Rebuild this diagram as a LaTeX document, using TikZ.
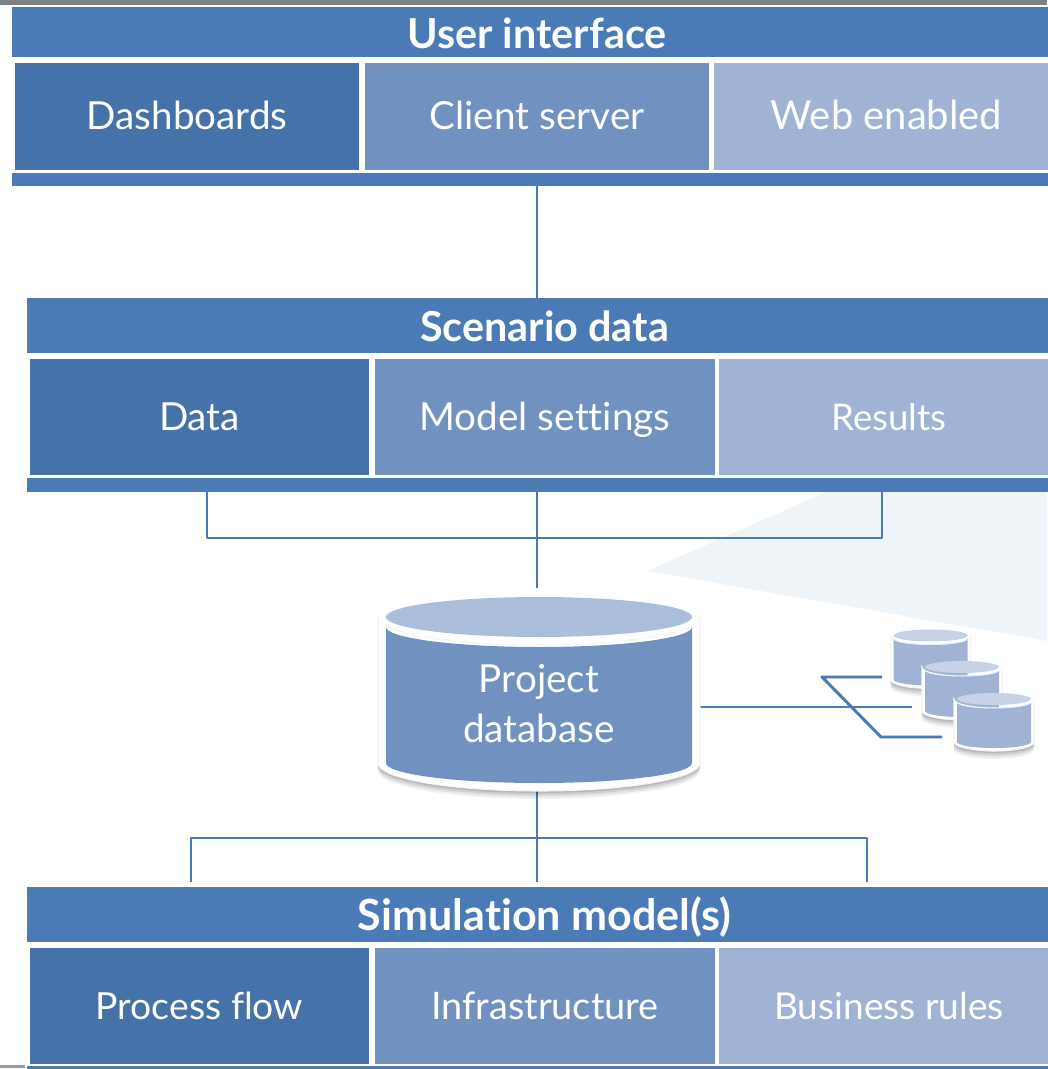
\documentclass[tikz,border=0pt]{standalone}
\usepackage{fontspec}
\usetikzlibrary{calc}
\setmainfont[RawFeature=-liga]{Lato}
\definecolor{hdr}{HTML}{4A7BB6}
\definecolor{cdark}{HTML}{4672AA}
\definecolor{cmid}{HTML}{7191C0}
\definecolor{clight}{HTML}{A0B3D4}
\definecolor{ctop}{HTML}{AABEDB}
\definecolor{ctopl}{HTML}{C6D3E6}
\definecolor{wedge}{HTML}{EFF4F9}
\definecolor{topgray}{HTML}{7F8085}
\newcommand{\fs}[1]{\fontsize{#1}{36}\selectfont}
\newcommand{\boxat}[6]{\node[#1,minimum width={(#4-#3)*0.75pt},minimum height={(#6-#5)*0.75pt}] (#2) at ({(#3+#4)/2},{(#5+#6)/2})}
% cx, ytop(ellipse centre), rx, ry, height, gap, outline, body, top
\newcommand{\cyl}[9]{%
  \foreach \s/\o in {8/.05,6/.07,4/.09,2/.11}{
    \begin{scope}[shift={(0,\s)}]
    \fill[black,opacity=\o] ({#1-#3-#7},{#2+#5-10}) -- ({#1-#3-#7},{#2+#5})
      arc[start angle=180,end angle=0,x radius={#3+#7},y radius={#4+#7}] -- ({#1+#3+#7},{#2+#5-10}) -- cycle;
    \end{scope}
  }
  \fill[white,draw=black!4,line width=0.8pt] ({#1-#3-#7},{#2}) -- ({#1-#3-#7},{#2+#5})
      arc[start angle=180,end angle=0,x radius={#3+#7},y radius={#4+#7}]
      -- ({#1+#3+#7},{#2}) arc[start angle=0,end angle=180,x radius={#3+#7},y radius={#4+#7}] -- cycle;
  \fill[#8] ({#1-#3},{#2+#6}) -- ({#1-#3},{#2+#5})
      arc[start angle=180,end angle=0,x radius={#3},y radius={#4}]
      -- ({#1+#3},{#2+#6}) arc[start angle=0,end angle=180,x radius={#3},y radius={#4}] -- cycle;
  \fill[#9] (#1,#2) ellipse[x radius={#3},y radius={#4}];
}
\tikzset{
  x=0.75pt,y=-0.75pt,
  band/.style={fill=hdr,draw=none,inner sep=0pt,outer sep=0pt},
  head/.style={band,text=white,text height=28pt,text depth=3.5pt,font=\fontsize{31}{36}\selectfont\bfseries},
  plain/.style={draw=none,inner sep=0pt,outer sep=0pt,text=white,font=\fontsize{29}{37.5}\selectfont},
  cell/.style={plain,text height=24pt,text depth=4pt},
  dk/.style={cell,fill=cdark},
  md/.style={cell,fill=cmid},
  lt/.style={cell,fill=clight},
  conn/.style={draw=hdr,line width=2.2pt,line join=round},
  ghost/.style={draw=black,opacity=.1,line width=2pt,line join=round},
}
\begin{document}
\begin{tikzpicture}
\useasboundingbox (0,0) rectangle (1047,1069);
\fill[topgray] (0,0) rectangle (1047,5);
\fill[topgray!80] (0,1065) rectangle (25,1068);
\fill[wedge] (647,571) -- (826,492) -- (1047,492) -- (1047,641) -- cycle;
% User interface (the panels run on past the right edge of the picture)
\boxat{head}{uihead}{12}{1062}{7}{57} {User interface};
\boxat{dk}{uia}{15}{359}{63}{170} {Dashboards};
\boxat{md}{uib}{365}{709}{63}{170} {Client server};
\boxat{lt}{uic}{714}{1059}{63}{170} {\fs{30}Web enabled};
\boxat{band}{uibar}{12}{1062}{173}{186} {};
% Scenario data
\boxat{head}{schead}{27}{1062}{298}{353} {Scenario data};
\boxat{dk}{sca}{30}{369}{359}{475} {Data};
\boxat{md}{scb}{375}{715}{359}{475} {Model settings};
\boxat{lt}{scc}{719}{1059}{359}{475} {\fs{27.5}Results};
\boxat{band}{scbar}{27}{1062}{478}{492} {};
% Simulation
\boxat{head}{simhead}{27}{1062}{887}{942} {\fs{32.3}Simulation model(s)};
\boxat{dk}{sima}{30}{369}{948}{1064} {\fs{28}Process flow};
\boxat{md}{simb}{375}{715}{948}{1064} {\fs{28.4}Infrastructure};
\boxat{lt}{simc}{719}{1059}{948}{1064} {\fs{27.8}Business rules};
\boxat{band}{simbar}{27}{1062}{1066}{1069} {};
% connector anchors
\coordinate (spine) at (537,0);
\coordinate (scl) at (207,538);
\coordinate (scr) at (882,538);
\coordinate (siml) at (191,838);
\coordinate (simr) at (867,838);
\coordinate (dbt) at (537,588);
\coordinate (dbb) at (537,791);
\coordinate (dbr) at (700,707);
\coordinate (hub) at (822,677);
\coordinate (hubb) at (881,737);
\coordinate (s1) at (882,677);
\coordinate (s2) at (912,707);
\coordinate (s3) at (942,737);
% connectors
\draw[conn] (uibar.south -| spine) -- (schead.north -| spine);
\draw[conn] (scbar.south -| spine) -- (dbt);
\draw[conn] (scbar.south -| scl) -- (scl) -- (scr) -- (scbar.south -| scr);
\draw[conn] (dbb) -- ($(simhead.north -| spine)+(0,-5)$);
\draw[conn] ($(simhead.north -| siml)+(0,-5)$) -- (siml) -- (simr) -- ($(simhead.north -| simr)+(0,-5)$);
\begin{scope}[shift={(0,3)}]
\draw[ghost] (dbr) -- (s2);
\draw[ghost] (s1) -- (hub) -- (hubb) -- (s3);
\end{scope}
\draw[conn] (dbr) -- (s2);
\draw[conn] (s1) -- (hub) -- (hubb) -- (s3);
% cylinders
\cyl{539}{617}{153}{20}{146}{10}{8}{cmid}{ctop}
\cyl{930.5}{635.5}{37}{6}{44}{3.5}{3}{clight}{ctopl}
\cyl{962}{667}{37}{6}{44}{3.5}{3}{clight}{ctopl}
\cyl{994}{699}{37}{6}{43}{3.5}{3}{clight}{ctopl}
\node[plain,align=center] (db) at (539,704) {Project\\database};
\end{tikzpicture}
\end{document}
